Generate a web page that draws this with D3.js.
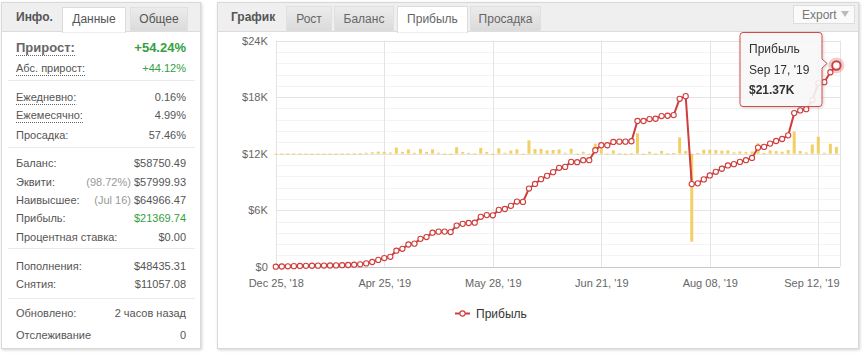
<!DOCTYPE html>
<html>
<head>
<meta charset="utf-8">
<script src="https://cdn.jsdelivr.net/npm/d3@7"></script>
<style>
  body { margin: 0; background: #fff; }
  svg { display: block; font-family: "Liberation Sans", Arial, sans-serif; }
</style>
</head>
<body>
<svg id="page" width="862" height="353"></svg>
<script>
// PROFIT CURVE, $K PER POINT
var profit = [
  0.00, 0.02, 0.04, 0.06, 0.08, 0.09, 0.10, 0.11, 0.12, 0.13,
  0.14, 0.16, 0.18, 0.21, 0.25, 0.35, 0.50, 0.72, 0.92, 1.05,
  1.70, 1.90, 2.36, 2.45, 2.96, 3.15, 3.61, 3.72, 3.73, 3.68,
  4.37, 4.55, 4.64, 4.67, 5.30, 5.48, 5.46, 6.03, 6.13, 6.46,
  6.92, 6.88, 8.30, 8.79, 9.30, 9.65, 10.04, 10.50, 10.60, 11.13,
  11.10, 11.31, 11.31, 12.37, 12.90, 12.90, 13.25, 13.28, 13.28, 13.32,
  15.47, 15.47, 15.68, 15.71, 16.00, 16.03, 16.10, 17.83, 18.11, 8.77,
  8.85, 9.27, 9.69, 10.08, 10.40, 10.75, 10.89, 11.13, 11.31, 11.55,
  12.65, 12.72, 13.07, 13.35, 13.56, 13.95, 16.31, 16.60, 16.73, 17.70,
  19.50, 19.60, 20.65, 21.37
];

// DAILY RESULT BARS, $K
var daily = [
  0.00, 0.02, 0.02, 0.02, 0.02, 0.01, 0.01, 0.01, 0.01, 0.01,
  0.01, 0.02, 0.02, 0.03, 0.04, 0.10, 0.15, 0.22, 0.20, 0.13,
  0.65, 0.20, 0.46, 0.09, 0.51, 0.19, 0.46, 0.11, 0.01, -0.05,
  0.69, 0.18, 0.09, 0.03, 0.63, 0.18, -0.02, 0.57, 0.10, 0.33,
  0.46, -0.04, 1.42, 0.49, 0.51, 0.35, 0.39, 0.46, 0.10, 0.53,
  -0.03, 0.21, 0.00, 1.06, 0.53, 0.00, 0.35, 0.03, 0.00, 0.04,
  2.15, 0.00, 0.21, 0.03, 0.29, 0.03, 0.07, 1.73, 0.28, -9.34,
  0.08, 0.42, 0.42, 0.39, 0.32, 0.35, 0.14, 0.24, 0.18, 0.24,
  1.10, 0.07, 0.35, 0.28, 0.21, 0.39, 2.36, 0.29, 0.13, 0.97,
  1.80, 0.10, 1.05, 0.72
];

var xTickIdx = [0, 18, 36, 54, 72, 90];
var xTickLabels = ["Dec 25, '18", "Apr 25, '19", "May 28, '19", "Jun 21, '19", "Aug 08, '19", "Sep 12, '19"];
var yTicks = [0, 6, 12, 18, 24];
var seriesName = "Прибыль";
var lastDate = "Sep 17, '19";
var lastValue = "$21.37K";

var infoLabels = ["Прирост:", "Абс. прирост:", "Ежедневно:", "Ежемесячно:", "Просадка:",
  "Баланс:", "Эквити:", "Наивысшее:", "Прибыль:", "Процентная ставка:",
  "Пополнения:", "Снятия:", "Обновлено:", "Отслеживание"];
var infoValues = ["+54.24%", "+44.12%", "0.16%", "4.99%", "57.46%",
  "$58750.49", "$57999.93", "$64966.47", "$21369.74", "$0.00",
  "$48435.31", "$11057.08", "2 часов назад", "0"];
var infoNotes = ["", "", "", "", "", "", "(98.72%) ", "(Jul 16) ", "", "", "", "", "", ""];
var infoTabs = ["Данные", "Общее"];
var chartTabs = ["Рост", "Баланс", "Прибыль", "Просадка"];

var svg = d3.select("#page");
var defs = svg.append("defs");
var shadow = defs.append("filter").attr("id", "shadow")
  .attr("x", "-5%").attr("y", "-5%").attr("width", "115%").attr("height", "115%");
shadow.append("feDropShadow").attr("dx", 1).attr("dy", 1).attr("stdDeviation", 1.5)
  .attr("flood-color", "#000").attr("flood-opacity", 0.18);
var tabGrad = defs.append("linearGradient").attr("id", "tabGrad").attr("x1", 0).attr("x2", 0).attr("y1", 0).attr("y2", 1);
tabGrad.append("stop").attr("offset", "0%").attr("stop-color", "#ececec");
tabGrad.append("stop").attr("offset", "100%").attr("stop-color", "#dadada");

//LEFT INFO PANEL
var left = svg.append("g");
left.append("rect").attr("x", 1.5).attr("y", 2.5).attr("width", 199).attr("height", 346)
  .attr("fill", "#fff").attr("stroke", "#d9d9d9").attr("filter", "url(#shadow)");
left.append("rect").attr("x", 2).attr("y", 3).attr("width", 198).attr("height", 28).attr("fill", "#efefef");
left.append("line").attr("x1", 2).attr("x2", 200).attr("y1", 31.5).attr("y2", 31.5).attr("stroke", "#dcdcdc");
left.append("text").attr("x", 16).attr("y", 21).attr("font-size", 12).attr("font-weight", "bold")
  .attr("fill", "#555").text("Инфо.");

var infoTabX = [62, 130];
var infoTabW = [63, 57];
infoTabs.forEach(function (t, i) {
  left.append("rect").attr("x", infoTabX[i] + 0.5).attr("y", 7.5).attr("width", infoTabW[i])
    .attr("height", i == 0 ? 25 : 23.5)
    .attr("fill", i == 0 ? "#fff" : "url(#tabGrad)").attr("stroke", i == 0 ? "#dcdcdc" : "#e0e0e0");
  left.append("text").attr("x", infoTabX[i] + infoTabW[i] / 2 + 0.5).attr("y", 23)
    .attr("text-anchor", "middle").attr("font-size", 12).attr("fill", "#555").text(t);
});
left.append("line").attr("x1", 63).attr("x2", 125).attr("y1", 31.5).attr("y2", 31.5).attr("stroke", "#fff").attr("stroke-width", 2);

var rowBase = [52, 72, 101, 119, 139, 167, 186, 204, 222, 241, 270, 288, 317, 339];
var separators = [80, 147, 248, 298];
var greenRows = [0, 1, 8];

separators.forEach(function (s) {
  left.append("line").attr("x1", 8).attr("x2", 195).attr("y1", s + 0.5).attr("y2", s + 0.5).attr("stroke", "#ebebeb");
});

infoLabels.forEach(function (lbl, i) {
  var big = i == 0;
  var t = left.append("text").attr("x", 16).attr("y", rowBase[i])
    .attr("font-size", big ? 13 : 11).attr("font-weight", big ? "bold" : "normal")
    .attr("fill", big ? "#666" : "#555").text(lbl);
  if (i < 4) {
    var w = t.node().getComputedTextLength();
    left.append("line").attr("x1", 16).attr("x2", 16 + w)
      .attr("y1", rowBase[i] + 3.5).attr("y2", rowBase[i] + 3.5)
      .attr("stroke", "#666").attr("stroke-dasharray", "1,1");
  }
  var v = left.append("text").attr("x", 186).attr("y", rowBase[i]).attr("text-anchor", "end")
    .attr("font-size", big ? 13 : 11).attr("font-weight", big ? "bold" : "normal");
  if (infoNotes[i]) {
    v.append("tspan").attr("fill", "#999").text(infoNotes[i]);
  }
  v.append("tspan").attr("fill", greenRows.indexOf(i) >= 0 ? "#34a040" : "#555").text(infoValues[i]);
});

//RIGHT CHART PANEL
var right = svg.append("g");
right.append("rect").attr("x", 217.5).attr("y", 2.5).attr("width", 641).attr("height", 346)
  .attr("fill", "#fff").attr("stroke", "#d9d9d9").attr("filter", "url(#shadow)");
right.append("rect").attr("x", 218).attr("y", 3).attr("width", 640).attr("height", 28).attr("fill", "#efefef");
right.append("line").attr("x1", 218).attr("x2", 858).attr("y1", 31.5).attr("y2", 31.5).attr("stroke", "#dcdcdc");
right.append("text").attr("x", 231).attr("y", 21).attr("font-size", 12).attr("font-weight", "bold")
  .attr("fill", "#555").text("График");

var chartTabX = [286, 334, 397, 470];
var chartTabW = [45, 59, 70, 70];
chartTabs.forEach(function (t, i) {
  var active = i == 2;
  right.append("rect").attr("x", chartTabX[i] + 0.5).attr("y", 6.5).attr("width", chartTabW[i])
    .attr("height", active ? 26 : 24.5)
    .attr("fill", active ? "#fff" : "url(#tabGrad)").attr("stroke", active ? "#dcdcdc" : "#e0e0e0");
  right.append("text").attr("x", chartTabX[i] + chartTabW[i] / 2 + 0.5).attr("y", 23)
    .attr("text-anchor", "middle").attr("font-size", 12).attr("fill", "#666").text(t);
});
right.append("line").attr("x1", 398).attr("x2", 467).attr("y1", 31.5).attr("y2", 31.5).attr("stroke", "#fff").attr("stroke-width", 2);

//EXPORT BUTTON
right.append("rect").attr("x", 793.5).attr("y", 5.5).attr("width", 61).attr("height", 18)
  .attr("fill", "#fafafa").attr("stroke", "#dddddd");
right.append("text").attr("x", 802).attr("y", 19).attr("font-size", 12).attr("fill", "#777").text("Export");
right.append("path").attr("d", "M841,11 L849,11 L845,17 Z").attr("fill", "#bbb");

//SCALES
var x = d3.scaleLinear().domain([0, profit.length - 1]).range([275.8, 836.4]);
var y = d3.scaleLinear().domain([0, 24]).range([266.7, 40.7]);
var yBar = d3.scaleLinear().domain([-12, 12]).range([266.7, 40.7]);
var plotRight = 840;

var grid = svg.append("g");
grid.selectAll(".minor").data(d3.range(0, 24.01, 1.2)).enter().append("line")
  .attr("x1", x(0)).attr("x2", plotRight)
  .attr("y1", (d) => Math.round(y(d)) + 0.5).attr("y2", (d) => Math.round(y(d)) + 0.5)
  .attr("stroke", "#f3f3f3");
grid.selectAll(".major").data(yTicks).enter().append("line")
  .attr("x1", x(0)).attr("x2", plotRight)
  .attr("y1", (d) => Math.round(y(d)) + 0.5).attr("y2", (d) => Math.round(y(d)) + 0.5)
  .attr("stroke", "#e4e4e4");
grid.selectAll(".vert").data(xTickIdx).enter().append("line")
  .attr("x1", (d) => Math.round(x(d)) + 0.5).attr("x2", (d) => Math.round(x(d)) + 0.5)
  .attr("y1", y(24)).attr("y2", y(0))
  .attr("stroke", "#e4e4e4");
grid.append("line").attr("x1", plotRight + 0.5).attr("x2", plotRight + 0.5)
  .attr("y1", y(24)).attr("y2", y(0)).attr("stroke", "#e4e4e4");
grid.append("line").attr("x1", x(0)).attr("x2", plotRight)
  .attr("y1", Math.round(y(0)) + 0.5).attr("y2", Math.round(y(0)) + 0.5).attr("stroke", "#c8c8c8");

//AXES
var yAxis = d3.axisLeft(y).tickValues(yTicks).tickSize(0).tickPadding(8)
  .tickFormat((d) => "$" + (d == 0 ? "0" : d + "K"));
var gy = svg.append("g").attr("transform", `translate(${x(0)}, 0)`).call(yAxis);
gy.select(".domain").remove();
gy.selectAll("text").attr("font-family", "Liberation Sans, Arial, sans-serif")
  .attr("font-size", 11).attr("fill", "#666");

var xAxis = d3.axisBottom(x).tickValues(xTickIdx).tickSize(0).tickPadding(13)
  .tickFormat((d, i) => xTickLabels[i]);
var gx = svg.append("g").attr("transform", `translate(0, ${y(0)})`).call(xAxis);
gx.select(".domain").remove();
gx.selectAll("text").attr("font-family", "Liberation Sans, Arial, sans-serif")
  .attr("font-size", 11).attr("fill", "#666");
gx.selectAll("text").filter((d, i) => i == xTickIdx.length - 1)
  .attr("text-anchor", "end").attr("x", plotRight - 1 - x(xTickIdx[xTickIdx.length - 1]));

//DAILY BARS
svg.append("g").selectAll("rect").data(daily).enter().append("rect")
  .attr("x", (d, i) => x(i) - 1.5)
  .attr("y", (d) => Math.min(yBar(d), yBar(0)))
  .attr("width", 3)
  .attr("height", (d) => Math.max(1, Math.abs(yBar(d) - yBar(0))))
  .attr("fill", "#f1cb55").attr("opacity", 0.9);

//PROFIT LINE
var lineColor = "#cf3d3d";
var line = d3.line().x((d, i) => x(i)).y((d) => y(d));
svg.append("path").datum(profit).attr("d", line)
  .attr("fill", "none").attr("stroke", lineColor).attr("stroke-width", 2);
svg.append("g").selectAll("circle").data(profit).enter().append("circle")
  .attr("cx", (d, i) => x(i)).attr("cy", (d) => y(d)).attr("r", 2.6)
  .attr("fill", "#fff").attr("stroke", lineColor).attr("stroke-width", 1.1);

//HOVERED LAST POINT
var last = profit.length - 1;
svg.append("circle").attr("cx", x(last)).attr("cy", y(profit[last])).attr("r", 8)
  .attr("fill", lineColor).attr("opacity", 0.25);
svg.append("circle").attr("cx", x(last)).attr("cy", y(profit[last])).attr("r", 4.2)
  .attr("fill", "#fff").attr("stroke", lineColor).attr("stroke-width", 2);

//TOOLTIP
var tip = svg.append("g").attr("filter", "url(#shadow)");
tip.append("path")
  .attr("d", "M743,32.5 L819,32.5 Q822,32.5 822,35.5 L822,59 L827,63.5 L822,68 L822,103.5 Q822,106.5 819,106.5 L743,106.5 Q740,106.5 740,103.5 L740,35.5 Q740,32.5 743,32.5 Z")
  .attr("fill", "#f9f9f9").attr("fill-opacity", 0.88).attr("stroke", "#d44a4a");
tip.append("text").attr("x", 749).attr("y", 53).attr("font-size", 12).attr("fill", "#333").text(seriesName);
tip.append("text").attr("x", 749).attr("y", 74).attr("font-size", 12).attr("fill", "#333").text(lastDate);
tip.append("text").attr("x", 749).attr("y", 94).attr("font-size", 12).attr("font-weight", "bold")
  .attr("fill", "#333").text(lastValue);

//LEGEND
var legend = svg.append("g");
legend.append("line").attr("x1", 455).attr("x2", 470).attr("y1", 313.5).attr("y2", 313.5)
  .attr("stroke", lineColor).attr("stroke-width", 2);
legend.append("circle").attr("cx", 462.5).attr("cy", 313.5).attr("r", 2.6)
  .attr("fill", "#fff").attr("stroke", lineColor).attr("stroke-width", 1.1);
legend.append("text").attr("x", 476).attr("y", 317.5).attr("font-size", 12).attr("fill", "#333").text(seriesName);
</script>
</body>
</html>
